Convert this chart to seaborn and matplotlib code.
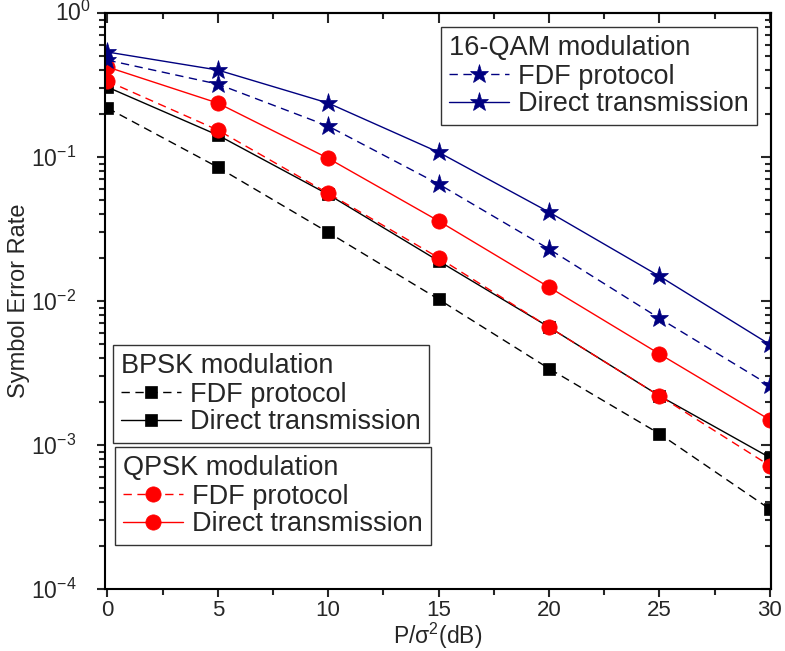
import numpy as np
import pandas as pd
import matplotlib
matplotlib.use('Agg')
import matplotlib.pyplot as plt
import matplotlib.transforms as mtransforms
import seaborn as sns
from matplotlib.ticker import MultipleLocator, LogLocator, NullFormatter, FuncFormatter

# data
snr_db = [0, 5, 10, 15, 20, 25, 30]
qam16_direct = [0.536, 0.402, 0.237, 0.108, 0.0415, 0.0149, 0.0050]
qam16_fdf = [0.471, 0.321, 0.164, 0.065, 0.023, 0.0076, 0.0026]
qpsk_direct = [0.422, 0.237, 0.098, 0.036, 0.0125, 0.0043, 0.0015]
qpsk_fdf = [0.337, 0.154, 0.056, 0.020, 0.0066, 0.0022, 0.00072]
bpsk_direct = [0.306, 0.142, 0.055, 0.019, 0.0066, 0.0022, 0.00082]
bpsk_fdf = [0.219, 0.085, 0.030, 0.0103, 0.0034, 0.0012, 0.00036]

sns.set_style('ticks')
plt.rcParams['font.family'] = ['Liberation Sans', 'DejaVu Sans']
plt.rcParams['mathtext.fontset'] = 'custom'
plt.rcParams['mathtext.rm'] = 'Liberation Sans'
plt.rcParams['mathtext.it'] = 'Liberation Sans:italic'

navy = '#000080'
red = '#ff0000'
dash = (0, (6, 4))

fig, ax = plt.subplots(figsize=(7.85, 6.51), dpi=100)
fig.subplots_adjust(left=0.134, right=0.982, top=0.980, bottom=0.095)


def draw(vals, color, marker, ms, ls):
    df = pd.DataFrame({'snr': snr_db, 'ser': vals})
    sns.lineplot(data=df, x='snr', y='ser', ax=ax, color=color, marker=marker,
                 markersize=ms, markeredgecolor=color, markerfacecolor=color,
                 markeredgewidth=0.5, linestyle=ls, linewidth=1.0)
    return ax.lines[-1]


h_bpsk_fdf = draw(bpsk_fdf, 'black', 's', 8.5, dash)
h_bpsk_dir = draw(bpsk_direct, 'black', 's', 8.5, '-')
h_qpsk_fdf = draw(qpsk_fdf, red, 'o', 11, dash)
h_qpsk_dir = draw(qpsk_direct, red, 'o', 11, '-')
h_qam_fdf = draw(qam16_fdf, navy, '*', 14, dash)
h_qam_dir = draw(qam16_direct, navy, '*', 14, '-')

ax.set_yscale('log')
ax.set_ylim(1e-4, 1)
ax.set_xlim(-0.1, 30.05)
ax.xaxis.set_major_locator(MultipleLocator(5))
ax.xaxis.set_minor_locator(MultipleLocator(2.5))
ax.yaxis.set_major_locator(LogLocator(base=10, numticks=10))
ax.yaxis.set_minor_locator(LogLocator(base=10, subs=np.arange(2, 10), numticks=10))
ax.yaxis.set_minor_formatter(NullFormatter())


def dec_label(v, pos):
    e = int(round(np.log10(v)))
    if e == 0:
        return ''  # drawn separately, sits further right in the reference
    return r'$\mathdefault{10^{%d}}$' % e


ax.yaxis.set_major_formatter(FuncFormatter(dec_label))
ax.text(-0.022, 1.0, r'$\mathdefault{10^{0}}$', fontsize=16.5, ha='right', va='center',
        transform=mtransforms.blended_transform_factory(ax.transAxes, ax.transData))

ax.set_xlabel('P/σ$^2$(dB)', fontsize=16.5, labelpad=0)
ax.set_ylabel('Symbol Error Rate', fontsize=17)
ax.yaxis.set_label_coords(-0.113, 0.5)

for s in ax.spines.values():
    s.set_linewidth(1.5)
    s.set_color('black')
ax.tick_params(which='major', direction='out', length=6, width=1.5)
ax.tick_params(which='minor', direction='out', length=4, width=1.5)
ax.tick_params(axis='x', which='major', labelsize=16, pad=2)
ax.tick_params(axis='y', which='major', labelsize=16.5, pad=15)

# inward mirrored ticks on top and right
top = ax.secondary_xaxis('top')
top.xaxis.set_major_locator(MultipleLocator(5))
top.xaxis.set_minor_locator(MultipleLocator(2.5))
top.tick_params(which='major', direction='in', length=7, width=1.5, labeltop=False)
top.tick_params(which='minor', direction='in', length=4, width=1.5)
top.spines['top'].set_linewidth(1.5)
right = ax.secondary_yaxis('right')
right.yaxis.set_major_locator(LogLocator(base=10, numticks=10))
right.yaxis.set_minor_locator(LogLocator(base=10, subs=np.arange(2, 10), numticks=10))
right.tick_params(which='major', direction='in', length=7, width=1.5, labelright=False)
right.tick_params(which='minor', direction='in', length=4, width=1.5)
right.spines['right'].set_linewidth(1.5)

leg_kw = dict(fontsize=19.5, title_fontsize=19.5, alignment='left', frameon=True,
              fancybox=False, framealpha=1, edgecolor='#333333', borderpad=0.3,
              labelspacing=0.05, handlelength=2.2, handletextpad=0.35,
              borderaxespad=0)

leg1 = ax.legend([h_qam_fdf, h_qam_dir], ['FDF protocol', 'Direct transmission'],
                 title='16-QAM modulation', loc='upper right',
                 bbox_to_anchor=(0.979, 0.976), **leg_kw)
ax.add_artist(leg1)
leg2 = ax.legend([h_bpsk_fdf, h_bpsk_dir], ['FDF protocol', 'Direct transmission'],
                 title='BPSK modulation', loc='upper left',
                 bbox_to_anchor=(0.012, 0.424), **leg_kw)
ax.add_artist(leg2)
leg3 = ax.legend([h_qpsk_fdf, h_qpsk_dir], ['FDF protocol', 'Direct transmission'],
                 title='QPSK modulation', loc='lower left',
                 bbox_to_anchor=(0.015, 0.076), **leg_kw)
for lg in (leg1, leg2, leg3):
    lg.get_frame().set_linewidth(1.0)
    lg._legend_box.sep = 2

fig.savefig('out.png', dpi=100)
